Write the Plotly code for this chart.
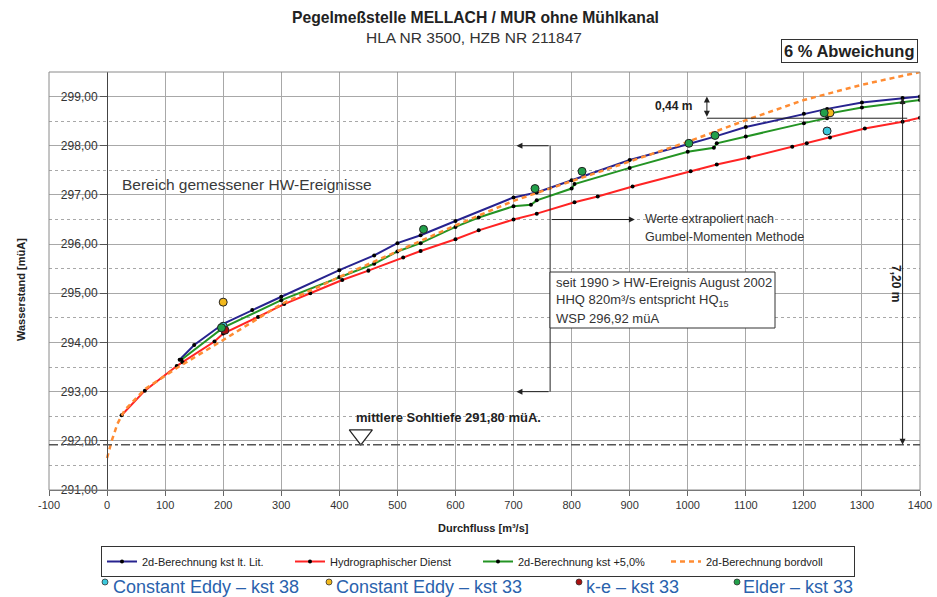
import plotly.graph_objects as go

# ---------------- data ----------------
blue_q = [125, 150, 200, 250, 300, 400, 460, 500, 540, 600, 700, 740, 800, 900, 1000, 1045, 1100, 1200, 1240, 1300, 1370, 1400]
blue_w = [293.65, 293.95, 294.38, 294.66, 294.93, 295.47, 295.77, 296.02, 296.18, 296.47, 296.95, 297.05, 297.30, 297.71, 298.03, 298.18, 298.38, 298.65, 298.75, 298.88, 298.97, 299.00]

red_q = [25, 65, 120, 130, 185, 200, 260, 305, 350, 405, 450, 510, 540, 600, 640, 700, 740, 805, 845, 905, 1005, 1050, 1105, 1180, 1205, 1245, 1305, 1370, 1400]
red_w = [292.52, 293.02, 293.52, 293.60, 294.02, 294.18, 294.52, 294.78, 295.00, 295.27, 295.46, 295.73, 295.86, 296.10, 296.28, 296.50, 296.62, 296.85, 296.97, 297.17, 297.48, 297.62, 297.76, 297.98, 298.05, 298.17, 298.35, 298.49, 298.57]

green_q = [128, 200, 300, 400, 460, 500, 540, 600, 640, 700, 730, 740, 800, 805, 900, 1000, 1045, 1050, 1100, 1200, 1240, 1245, 1300, 1370, 1400]
green_w = [293.65, 294.30, 294.86, 295.33, 295.60, 295.85, 296.02, 296.35, 296.54, 296.77, 296.80, 296.89, 297.13, 297.22, 297.55, 297.88, 297.96, 298.05, 298.19, 298.46, 298.56, 298.66, 298.78, 298.88, 298.93]

orange_q = [0, 8, 18, 30, 65, 120, 200, 250, 300, 400, 500, 600, 700, 800, 900, 1000, 1100, 1200, 1300, 1400]
orange_w = [291.65, 292.00, 292.35, 292.62, 293.05, 293.48, 294.05, 294.42, 294.78, 295.33, 295.85, 296.38, 296.88, 297.28, 297.68, 298.08, 298.52, 298.93, 299.24, 299.50]

ce38_q = [200, 1240]
ce38_w = [294.33, 298.30]
ce33_q = [200, 1245]
ce33_w = [294.82, 298.67]
ke_q = [203]
ke_w = [294.25]
elder_q = [197, 545, 737, 818, 1002, 1047, 1235]
elder_w = [294.30, 296.30, 297.13, 297.48, 298.05, 298.21, 298.67]

line_names = ["2d-Berechnung kst lt. Lit.", "Hydrographischer Dienst",
              "2d-Berechnung kst +5,0%", "2d-Berechnung bordvoll"]
point_names = ["Constant Eddy \u2013 kst 38", "Constant Eddy \u2013 kst 33",
               "k-e \u2013 kst 33", "Elder \u2013 kst 33"]

x_tickvals = list(range(-100, 1500, 100))
x_ticktext = [str(v) for v in x_tickvals]

SOHL = 291.92          # mittlere Sohltiefe line
TOP_W = 299.00         # 7,20 m reference top
DIFF_LOW = 298.56      # 0,44 m lower level
X_RANGE = [-100, 1400]
Y_RANGE = [291, 299.5]

# ---------------- styling helpers ----------------
FONT = "Liberation Sans, Arial, sans-serif"
W, H = 937, 597
L, R, T, B = 49, 920, 72, 490


def px(x):
    return (x - L) / (R - L)


def py(y):
    return (B - y) / (B - T)


fig = go.Figure()

line_cols = ["#27238f", "#ff2424", "#249424", "#ff8c33"]
series = [(blue_q, blue_w), (red_q, red_w), (green_q, green_w)]
for (q, w), name, col in zip(series, line_names[:3], line_cols[:3]):
    fig.add_trace(go.Scatter(x=q, y=w, name=name, mode="lines+markers",
                             line=dict(color=col, width=2),
                             marker=dict(color="black", size=4)))
fig.add_trace(go.Scatter(x=orange_q, y=orange_w, name=line_names[3], mode="lines",
                         line=dict(color=line_cols[3], width=2.5, dash="5px,4px")))

pt_cols = ["#3cc8dc", "#f2b81c", "#a81010", "#22a04a"]
for (q, w), name, col in zip([(ce38_q, ce38_w), (ce33_q, ce33_w), (ke_q, ke_w), (elder_q, elder_w)],
                             point_names, pt_cols):
    fig.add_trace(go.Scatter(x=q, y=w, name=name, mode="markers", showlegend=False,
                             marker=dict(color=col, size=8, line=dict(color="#222", width=1))))

# Sohltiefe triangle
fig.add_trace(go.Scatter(x=[437], y=[292.12], mode="markers", showlegend=False,
                         marker=dict(symbol="triangle-down", size=20, color="white",
                                     line=dict(color="#222", width=1.2))))

shapes = []
shapes.append(dict(type="rect", xref="paper", yref="paper", x0=0, x1=1, y0=0, y1=1,
                   line=dict(color="#8a8a8a", width=1)))
shapes.append(dict(type="line", xref="paper", yref="y", x0=0, x1=1, y0=SOHL, y1=SOHL,
                   line=dict(color="#555", width=1.5, dash="dashdot")))
shapes.append(dict(type="line", xref="x", yref="y", x0=763, x1=763, y0=298.0, y1=293.0,
                   line=dict(color="#222", width=1)))
shapes.append(dict(type="line", xref="x", yref="y", x0=1033, x1=1378, y0=DIFF_LOW, y1=DIFF_LOW,
                   line=dict(color="#222", width=1)))
shapes.append(dict(type="rect", xref="paper", yref="paper", x0=px(550), x1=px(775),
                   y0=py(328), y1=py(272), line=dict(color="#333", width=1), fillcolor="white"))

ann = []


def text(x, y, s, size=12, bold=False, color="#222", xanchor="center", yanchor="middle", **kw):
    if bold:
        s = "<b>" + s + "</b>"
    ann.append(dict(x=px(x), y=py(y), xref="paper", yref="paper", text=s, showarrow=False,
                    font=dict(family=FONT, size=size, color=color),
                    xanchor=xanchor, yanchor=yanchor, **kw))


def arrow(x, y, ax, ay, side="end"):
    ann.append(dict(x=x, y=y, ax=ax, ay=ay, xref="x", yref="y", axref="x", ayref="y",
                    text="", showarrow=True, arrowhead=2, arrowsize=1.2, arrowwidth=1,
                    arrowcolor="#222", arrowside=side, startarrowhead=2, startarrowsize=1.2))


text(475, 17, "Pegelmeßstelle MELLACH / MUR ohne Mühlkanal", size=15.7, bold=True)
text(474, 38, "HLA NR 3500, HZB NR 211847", size=15.5, color="#333")
text(849, 51.5, "6 % Abweichung", size=16.5, bold=True, color="#222",
     bordercolor="#333", borderwidth=1, borderpad=2, bgcolor="white")
text(21, 290, "Wasserstand [müA]", size=11, bold=True, textangle=-90)
text(483, 528, "Durchfluss [m³/s]", size=11, bold=True)

text(120, 184, "Bereich gemessener HW-Ereignisse", size=15.5, color="#3a3a3a", xanchor="left")
text(643, 219, "Werte extrapoliert nach", size=12.5, color="#333", xanchor="left")
text(643, 237, "Gumbel-Momenten Methode", size=12.5, color="#333", xanchor="left")
text(554, 282, "seit 1990 > HW-Ereignis August 2002", size=13, color="#333", xanchor="left")
text(554, 300, "HHQ 820m³/s entspricht HQ<sub>15</sub>", size=13, color="#333", xanchor="left")
text(554, 318, "WSP 296,92 müA", size=13, color="#333", xanchor="left")
text(448, 417, "mittlere Sohltiefe 291,80 müA.", size=13, bold=True)
text(673, 106, "0,44 m", size=12, bold=True, color="#222")
text(896, 283, "7,20 m", size=12, bold=True, textangle=90)

arrow(705, 298.0, 763, 298.0)
arrow(705, 293.0, 763, 293.0)
arrow(909, 296.5, 763, 296.5)
arrow(1033, TOP_W, 1033, DIFF_LOW, side="end+start")
arrow(1370, SOHL, 1370, TOP_W, side="end+start")

row_y = 587
for dot_x, txt_x, name, col in zip([105, 329, 579, 737], [111, 334, 584, 741], point_names, pt_cols):
    shapes.append(dict(type="circle", xref="paper", yref="paper",
                       x0=px(dot_x - 3), x1=px(dot_x + 3), y0=py(row_y - 2), y1=py(row_y - 8),
                       fillcolor=col, line=dict(color="#333", width=0.8)))
    text(txt_x, row_y, name, size=18, color="#2a62ad", xanchor="left")

fig.update_layout(
    width=W, height=H,
    margin=dict(l=L, r=W - R, t=T, b=H - B, pad=0, autoexpand=False),
    paper_bgcolor="white", plot_bgcolor="white",
    separators=",.",
    font=dict(family=FONT, size=11, color="#333"),
    showlegend=True,
    legend=dict(orientation="h", xref="container", yref="container",
                x=101 / W, y=1 - 546 / H, xanchor="left", yanchor="top",
                bordercolor="#333", borderwidth=1, bgcolor="white",
                font=dict(family=FONT, size=11, color="#222"),
                entrywidth=143, entrywidthmode="pixels", itemwidth=30, tracegroupgap=0),
    xaxis=dict(range=X_RANGE, tickvals=x_tickvals, ticktext=x_ticktext, showgrid=True,
               gridcolor="#a8a8a8", gridwidth=1, automargin=False,
               zeroline=False, showline=True, linecolor="#666", linewidth=1,
               ticks="outside", ticklen=5, tickcolor="#666",
               tickfont=dict(family=FONT, size=11, color="#333")),
    yaxis=dict(range=Y_RANGE, dtick=1, tick0=291, tickformat=".2f", showgrid=True,
               gridcolor="#a8a8a8", gridwidth=1, zeroline=False, automargin=False,
               anchor="free", position=(0 - X_RANGE[0]) / (X_RANGE[1] - X_RANGE[0]),
               showline=True, linecolor="#444", linewidth=1.2,
               ticks="outside", ticklen=7, tickcolor="#555",
               tickfont=dict(family=FONT, size=12, color="#333"),
               minor=dict(dtick=0.5, showgrid=True, gridcolor="#a8a8a8", griddash="dot", gridwidth=1)),
    shapes=shapes, annotations=ann,
)

fig.write_html("out.html", config={"displayModeBar": False},
               post_script="document.body.style.margin='0';document.body.style.overflow='hidden';")
